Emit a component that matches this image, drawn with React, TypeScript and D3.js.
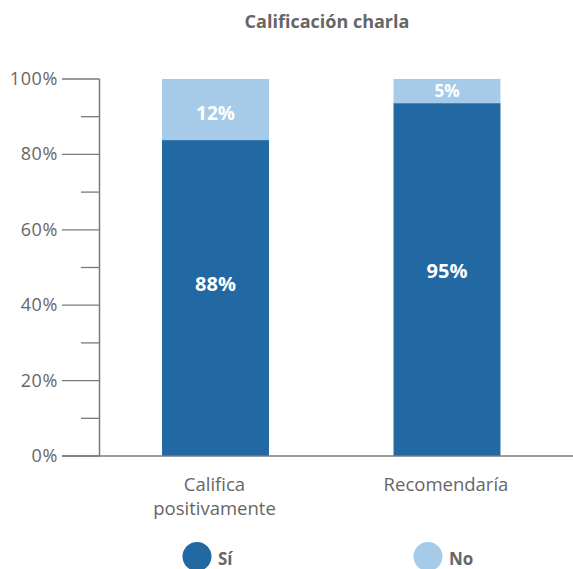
import React from "react";
import * as d3 from "d3";

const title = "Calificación charla";
const categories = ["Califica positivamente", "Recomendaría"];
const categoryLines = [["Califica", "positivamente"], ["Recomendaría"]];
const siValues = [83.8, 93.6];
const noValues = [16.2, 6.4];
const siLabels = ["88%", "95%"];
const noLabels = ["12%", "5%"];
const siLabelPos = [88, 95];
const majorTicks = [0, 20, 40, 60, 80, 100];
const minorTicks = [10, 30, 50, 70, 90];
const seriesNames = ["Sí", "No"];

const W = 573;
const H = 569;
const DARK = "#2268a2";
const LIGHT = "#a5cbe9";
const GRAY = "#666666";
const AXIS = "#7a7a7a";
const FONT = "'Open Sans', 'DejaVu Sans', sans-serif";

export default function App() {
  const y = d3.scaleLinear().domain([0, 100]).range([456, 79]);
  const x = d3
    .scaleBand<string>()
    .domain(categories)
    .range([100, 562.5])
    .paddingInner(0.538)
    .paddingOuter(0.268);

  const rows = categories.map((c, i) => ({ cat: c, si: siValues[i], no: noValues[i] }));
  const stacked = d3.stack<any>().keys(["si", "no"])(rows);
  const colors = [DARK, LIGHT];
  const axisX = 99.5;

  return (
    <svg
      width={W}
      height={H}
      style={{ position: "absolute", left: 0, top: 0, background: "#fff" }}
      fontFamily={FONT}
    >
      <text x={327} y={28} textAnchor="middle" fontSize={18} fontWeight="bold" fill={GRAY}>
        {title}
      </text>

      {stacked.map((layer, li) =>
        layer.map((d, i) => (
          <rect
            key={`${li}-${i}`}
            x={x(categories[i])}
            width={x.bandwidth()}
            y={y(d[1])}
            height={y(d[0]) - y(d[1])}
            fill={colors[li]}
          />
        ))
      )}

      {categories.map((c, i) => {
        const cx = (x(c) as number) + x.bandwidth() / 2;
        const s0 = stacked[1][i];
        const noMid = (y(s0[0]) + y(s0[1])) / 2;
        return (
          <g key={c}>
            <text
              x={cx}
              y={y(siLabelPos[i] / 2) + 1}
              textAnchor="middle"
              fontSize={20}
              fontWeight="bold"
              fill="#fff"
            >
              {siLabels[i]}
            </text>
            <text
              x={cx}
              y={noMid + (i === 0 ? 10 : 6)}
              textAnchor="middle"
              fontSize={i === 0 ? 19 : 17}
              fontWeight="bold"
              fill="#fff"
            >
              {noLabels[i]}
            </text>
            {categoryLines[i].map((ln, k) => (
              <text key={k} x={cx - 1} y={491 + k * 23.5} textAnchor="middle" fontSize={18.5} fill={GRAY}>
                {ln}
              </text>
            ))}
          </g>
        );
      })}

      <line x1={axisX} x2={axisX} y1={y(100)} y2={y(0)} stroke={AXIS} strokeWidth={1.5} />
      <line x1={62} x2={573} y1={y(0)} y2={y(0)} stroke={AXIS} strokeWidth={1.5} />
      {majorTicks.map((t) => (
        <g key={t}>
          <line x1={62} x2={axisX} y1={y(t)} y2={y(t)} stroke={AXIS} strokeWidth={1.3} />
          <text x={58} y={y(t) + 6} textAnchor="end" fontSize={18} letterSpacing={0.6} fill={GRAY}>
            {t}%
          </text>
        </g>
      ))}
      {minorTicks.map((t) => (
        <line key={t} x1={81} x2={axisX} y1={y(t)} y2={y(t)} stroke={AXIS} strokeWidth={1.3} />
      ))}

      {seriesNames.map((s, i) => {
        const cx = i === 0 ? 197 : 428;
        return (
          <g key={s}>
            <circle cx={cx} cy={556.5} r={14.5} fill={colors[i]} />
            <text x={cx + 21} y={565} fontSize={17} fontWeight="bold" fill={GRAY}>
              {s}
            </text>
          </g>
        );
      })}
    </svg>
  );
}
